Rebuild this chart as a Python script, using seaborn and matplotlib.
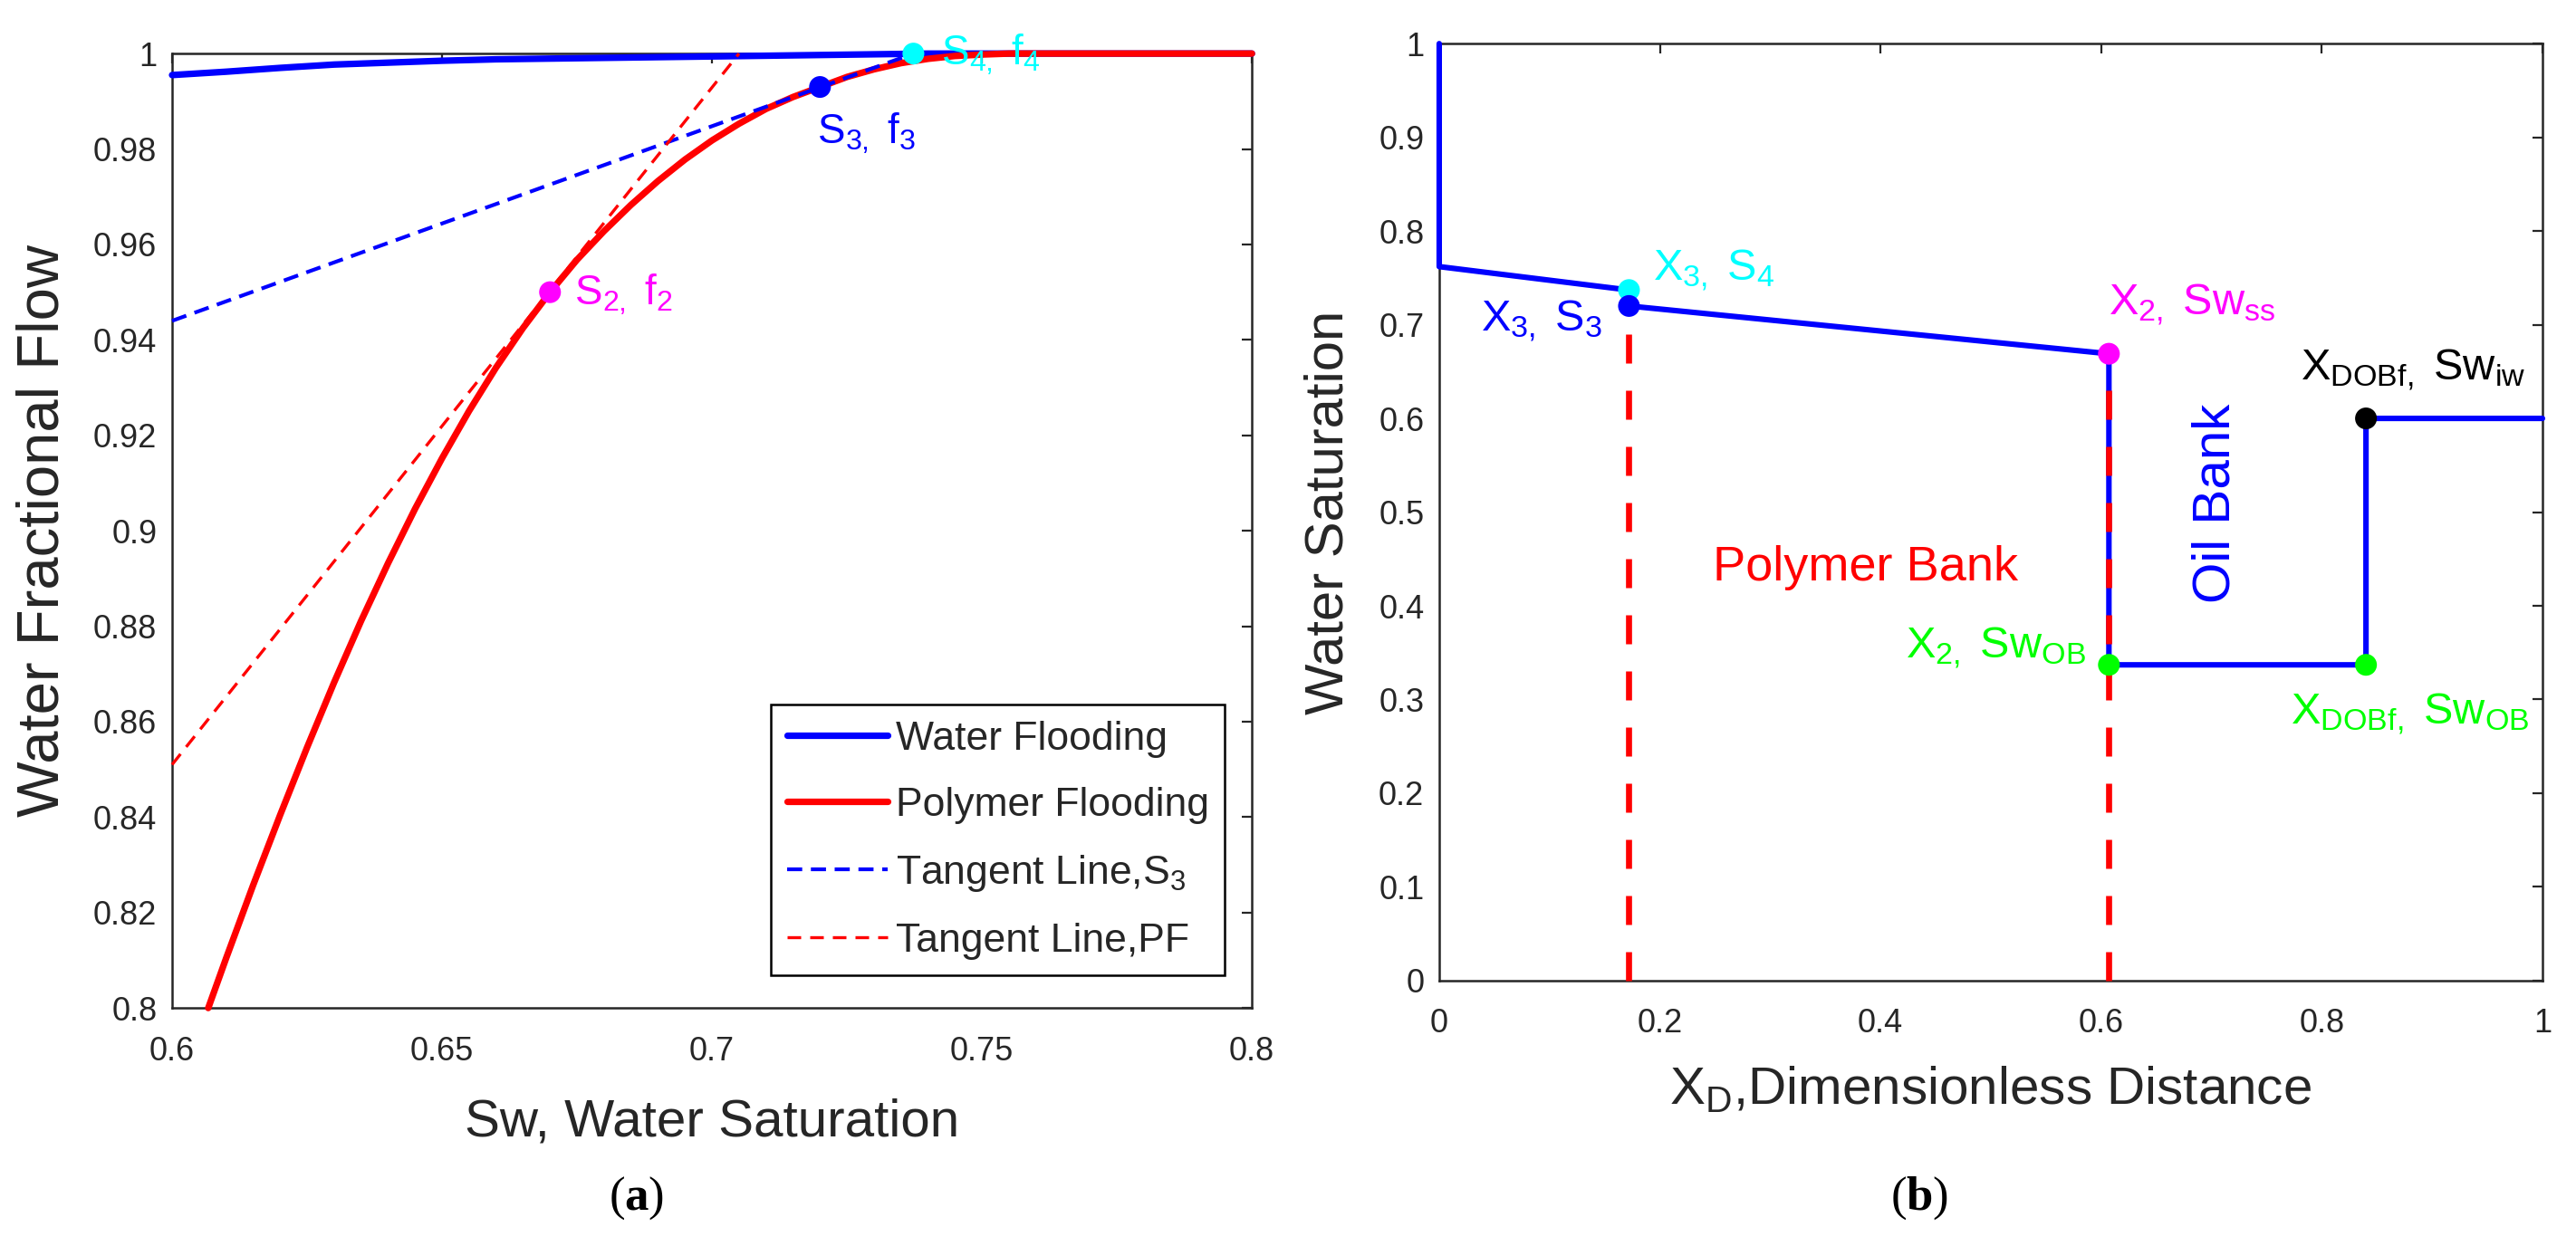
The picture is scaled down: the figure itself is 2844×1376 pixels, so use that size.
import matplotlib
matplotlib.use("Agg")
import matplotlib.pyplot as plt
import seaborn as sns

# panel (a): fractional flow curves
sw_water = [0.60, 0.61, 0.62, 0.63, 0.65, 0.66, 0.68, 0.70, 0.72, 0.74, 0.80]
fw_water = [0.9955, 0.9962, 0.9970, 0.9977, 0.9985, 0.9988, 0.9991, 0.9994, 0.9997, 1.0, 1.0]

sw_polymer = [0.6067, 0.61, 0.615, 0.62, 0.625, 0.63, 0.635, 0.64, 0.645, 0.65,
              0.655, 0.66, 0.665, 0.67, 0.675, 0.68, 0.685, 0.69, 0.695, 0.70,
              0.705, 0.71, 0.715, 0.72, 0.725, 0.73, 0.735, 0.74, 0.745, 0.75,
              0.755, 0.80]
fw_polymer = [0.800, 0.8104, 0.8257, 0.8404, 0.8546, 0.8682, 0.8811, 0.8932, 0.9046, 0.9152,
              0.9251, 0.9342, 0.9425, 0.950, 0.9568, 0.9628, 0.9683, 0.9733, 0.9778, 0.9818,
              0.9853, 0.9884, 0.9909, 0.9930, 0.9951, 0.9967, 0.9980, 0.9989, 0.9995, 0.9998,
              1.0, 1.0]

tan_s3_sw = [0.60, 0.7373]
tan_s3_fw = [0.944, 1.0]
tan_pf_sw = [0.60, 0.705]
tan_pf_fw = [0.851, 1.0]

pts_a_sw = [0.67, 0.72, 0.7373]
pts_a_fw = [0.950, 0.993, 1.0]
pts_a_col = ["#ff00ff", "#0000ff", "#00ffff"]

# panel (b): saturation profile
prof_xd = [0.0, 0.0, 0.172, 0.172, 0.607, 0.607, 0.84, 0.84, 1.0]
prof_sw = [1.0, 0.762, 0.737, 0.720, 0.669, 0.337, 0.337, 0.600, 0.600]
front_xd = [0.172, 0.607]
front_top = [0.720, 0.669]

pts_b_xd = [0.172, 0.172, 0.607, 0.607, 0.84, 0.84]
pts_b_sw = [0.737, 0.720, 0.669, 0.337, 0.337, 0.600]
pts_b_col = ["#00ffff", "#0000ff", "#ff00ff", "#00ff00", "#00ff00", "#000000"]

BLUE, RED = "#0000ff", "#ff0000"
GREY = "#262626"

sns.set_theme(style="white")
plt.rcParams["font.family"] = ["Liberation Sans", "DejaVu Sans"]
plt.rcParams["mathtext.fontset"] = "custom"
plt.rcParams["mathtext.rm"] = "Liberation Sans"
plt.rcParams["mathtext.it"] = "Liberation Sans:italic"
plt.rcParams["mathtext.bf"] = "Liberation Serif:bold"

fig = plt.figure(figsize=(14.22, 6.88), dpi=200)
ax1 = fig.add_axes([0.0668, 0.191, 0.4192, 0.766])
ax2 = fig.add_axes([0.5587, 0.213, 0.4283, 0.752])


def style_axes(ax):
    for sp in ax.spines.values():
        sp.set_color(GREY)
        sp.set_linewidth(0.9)
    ax.tick_params(direction="in", length=4, width=0.8, top=True, right=True,
                   color=GREY, labelcolor=GREY, labelsize=13)
    ax.tick_params(axis="x", pad=11)
    ax.tick_params(axis="y", pad=6)


# ---- panel (a)
sns.lineplot(x=sw_water, y=fw_water, ax=ax1, color=BLUE, linewidth=2.6,
             sort=False, estimator=None, clip_on=False, zorder=3)
sns.lineplot(x=sw_polymer, y=fw_polymer, ax=ax1, color=RED, linewidth=2.6,
             sort=False, estimator=None, clip_on=False, zorder=3)
sns.lineplot(x=tan_s3_sw, y=tan_s3_fw, ax=ax1, color=BLUE, linewidth=1.5,
             sort=False, estimator=None, clip_on=False, zorder=4)
ax1.lines[-1].set_dashes((4, 2.3))
sns.lineplot(x=tan_pf_sw, y=tan_pf_fw, ax=ax1, color=RED, linewidth=1.2,
             sort=False, estimator=None, clip_on=False, zorder=4)
ax1.lines[-1].set_dashes((4.5, 3))
handles = list(ax1.lines[:4])
sns.scatterplot(x=pts_a_sw, y=pts_a_fw, ax=ax1, hue=pts_a_col, palette=pts_a_col,
                s=75, linewidth=0, legend=False, clip_on=False, zorder=5)

ax1.text(0.6745, 0.9495, r"S$_{2,}$ f$_{2}$", color="#ff00ff", fontsize=16.5,
         ha="left", va="center")
ax1.text(0.7195, 0.988, r"S$_{3,}$ f$_{3}$", color=BLUE, fontsize=16.5,
         ha="left", va="top")
ax1.text(0.7425, 0.9998, r"S$_{4,}$ f$_{4}$", color="#00ffff", fontsize=16.5,
         ha="left", va="center")

ax1.set_xlim(0.6, 0.8)
ax1.set_ylim(0.8, 1.0)
ax1.set_xticks([0.6, 0.65, 0.7, 0.75, 0.8])
ax1.set_xticklabels(["0.6", "0.65", "0.7", "0.75", "0.8"])
ax1.set_yticks([0.8 + 0.02 * i for i in range(11)])
ax1.set_yticklabels(["0.8", "0.82", "0.84", "0.86", "0.88", "0.9",
                     "0.92", "0.94", "0.96", "0.98", "1"])
ax1.set_xlabel("Sw, Water Saturation", fontsize=21, color=GREY, labelpad=12)
ax1.set_ylabel("Water Fractional Flow", fontsize=23.5, color=GREY, labelpad=9)
style_axes(ax1)

leg = ax1.legend(handles, ["Water Flooding", "Polymer Flooding",
                           "Tangent Line,S$_{3}$", "Tangent Line,PF"],
                 loc="lower right", bbox_to_anchor=(0.975, 0.034), borderaxespad=0,
                 fontsize=16, frameon=True, fancybox=False, framealpha=1,
                 edgecolor="#000000", handlelength=2.5, handletextpad=0.2,
                 labelspacing=0.72, borderpad=0.4)
leg.get_frame().set_linewidth(0.9)

# ---- panel (b)
sns.lineplot(x=prof_xd, y=prof_sw, ax=ax2, color=BLUE, linewidth=2.2,
             sort=False, estimator=None, clip_on=False, zorder=3)
for xf, top in zip(front_xd, front_top):
    sns.lineplot(x=[xf, xf], y=[0.0, top], ax=ax2, color=RED, linewidth=2.4,
                 sort=False, estimator=None, clip_on=False, zorder=4)
    ax2.lines[-1].set_dashes((4.8, 4.5))
sns.scatterplot(x=pts_b_xd, y=pts_b_sw, ax=ax2, hue=list(range(len(pts_b_col))),
                palette=pts_b_col, s=75, linewidth=0, legend=False,
                clip_on=False, zorder=5)

ax2.text(0.194, 0.747, r"X$_{3,}$ S$_{4}$", color="#00ffff", fontsize=17.5,
         ha="left", va="baseline")
ax2.text(0.148, 0.693, r"X$_{3,}$ S$_{3}$", color=BLUE, fontsize=17.5,
         ha="right", va="baseline")
ax2.text(0.607, 0.711, r"X$_{2,}$ Sw$_{\mathrm{ss}}$", color="#ff00ff", fontsize=17.5,
         ha="left", va="baseline")
ax2.text(0.586, 0.344, r"X$_{2,}$ Sw$_{\mathrm{OB}}$", color="#00ff00", fontsize=17.5,
         ha="right", va="baseline")
ax2.text(0.772, 0.274, r"X$_{\mathrm{DOBf,}}$ Sw$_{\mathrm{OB}}$", color="#00ff00",
         fontsize=17.5, ha="left", va="baseline")
ax2.text(0.781, 0.641, r"X$_{\mathrm{DOBf,}}$ Sw$_{\mathrm{iw}}$", color="#000000",
         fontsize=17.5, ha="left", va="baseline")
ax2.text(0.386, 0.427, "Polymer Bank", color=RED, fontsize=19.5,
         ha="center", va="baseline")
ax2.text(0.704, 0.509, "Oil Bank", color=BLUE, fontsize=21, rotation=90,
         ha="center", va="center")

ax2.set_xlim(0, 1)
ax2.set_ylim(0, 1)
ax2.set_xticks([0, 0.2, 0.4, 0.6, 0.8, 1.0])
ax2.set_xticklabels(["0", "0.2", "0.4", "0.6", "0.8", "1"])
ax2.set_yticks([0.1 * i for i in range(11)])
ax2.set_yticklabels(["0", "0.1", "0.2", "0.3", "0.4", "0.5",
                     "0.6", "0.7", "0.8", "0.9", "1"])
ax2.set_xlabel(r"X$_{\mathrm{D}}$,Dimensionless Distance", fontsize=21,
               color=GREY, labelpad=10)
ax2.set_ylabel("Water Saturation", fontsize=21.5, color=GREY, labelpad=10)
style_axes(ax2)

# sub-figure captions
fig.text(0.247, 0.0385, r"($\mathbf{a}$)", fontsize=19, family="Liberation Serif",
         ha="center", va="center", color="#000000")
fig.text(0.745, 0.0385, r"($\mathbf{b}$)", fontsize=19, family="Liberation Serif",
         ha="center", va="center", color="#000000")

fig.savefig("out.png", dpi=200, facecolor="white")
